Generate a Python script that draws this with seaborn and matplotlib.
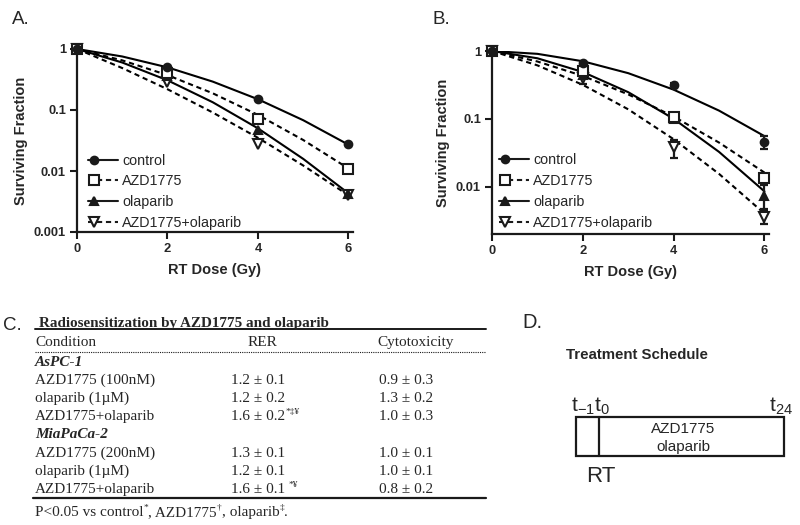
import numpy as np
import matplotlib
matplotlib.use("Agg")
import matplotlib.pyplot as plt
import pandas as pd
import seaborn as sns
from matplotlib.lines import Line2D
from matplotlib.patches import Rectangle
from matplotlib.legend_handler import HandlerLine2D

# ---- data ----
conditions = ["control", "AZD1775", "olaparib", "AZD1775+olaparib"]
dose = [0, 2, 4, 6]

# panel A: measured surviving fraction
sf_a_control = [1, 0.51, 0.151, 0.028]
sf_a_azd = [1, 0.41, 0.071, 0.0107]
sf_a_ola = [1, 0.36, 0.047, 0.0042]
sf_a_combo = [1, 0.29, 0.028, 0.0041]

# panel B: measured surviving fraction + error bar ends
sf_b_control = [1, 0.67, 0.32, 0.046]
lo_b_control = [1, 0.64, 0.30, 0.036]
hi_b_control = [1, 0.70, 0.34, 0.056]
sf_b_azd = [1, 0.50, 0.108, 0.0134]
lo_b_azd = [1, 0.46, 0.101, 0.0122]
hi_b_azd = [1, 0.55, 0.115, 0.0147]
sf_b_ola = [1, 0.45, 0.10, 0.0072]
lo_b_ola = [1, 0.41, 0.095, 0.0047]
hi_b_ola = [1, 0.50, 0.105, 0.0105]
sf_b_combo = [1, 0.40, 0.038, 0.0036]
lo_b_combo = [1, 0.33, 0.026, 0.0028]
hi_b_combo = [1, 0.46, 0.049, 0.0044]

# fitted curves, read at every Gy
fit_dose = [0, 1, 2, 3, 4, 5, 6]
fit_a_control = [1, 0.754, 0.50, 0.292, 0.150, 0.068, 0.027]
fit_a_azd = [1, 0.651, 0.373, 0.188, 0.083, 0.0322, 0.011]
fit_a_ola = [1, 0.60, 0.307, 0.134, 0.050, 0.0158, 0.0043]
fit_a_combo = [1, 0.487, 0.219, 0.091, 0.035, 0.0123, 0.0040]
fit_b_control = [1, 0.908, 0.706, 0.471, 0.269, 0.132, 0.0555]
fit_b_azd = [1, 0.70, 0.429, 0.229, 0.108, 0.0446, 0.0161]
fit_b_ola = [1, 0.781, 0.49, 0.247, 0.10, 0.0325, 0.0085]
fit_b_combo = [1, 0.614, 0.317, 0.138, 0.050, 0.0154, 0.0040]

# panel C table
cell_lines = ["AsPC-1", "MiaPaCa-2"]
table_conditions = [["AZD1775 (100nM)", "olaparib (1\u00b5M)", "AZD1775+olaparib"],
                    ["AZD1775 (200nM)", "olaparib (1\u00b5M)", "AZD1775+olaparib"]]
table_rer = [["1.2 \u00b1 0.1", "1.2 \u00b1 0.2", "1.6 \u00b1 0.2"],
             ["1.3 \u00b1 0.1", "1.2 \u00b1 0.1", "1.6 \u00b1 0.1 "]]
table_rer_sup = [["", "", "*\u2021\u00a5"], ["", "", "*\u00a5"]]
table_cyto = [["0.9 \u00b1 0.3", "1.3 \u00b1 0.2", "1.0 \u00b1 0.3"],
              ["1.0 \u00b1 0.1", "1.0 \u00b1 0.1", "0.8 \u00b1 0.2"]]

sns.set_theme(style="ticks")
plt.rcParams["font.family"] = ["Liberation Sans", "DejaVu Sans"]
plt.rcParams["mathtext.fontset"] = "custom"
plt.rcParams["mathtext.rm"] = "Liberation Sans"

styles = {
    "control": dict(marker="o", ms=5.5, mfc="k", dash=""),
    "AZD1775": dict(marker="s", ms=6.5, mfc="white", dash=(2.5, 1.8)),
    "olaparib": dict(marker="^", ms=5.5, mfc="k", dash=""),
    "AZD1775+olaparib": dict(marker="v", ms=6.5, mfc="white", dash=(2.5, 1.8)),
}


class MarkerLeft(HandlerLine2D):
    # marker at the left end of the legend line, like the original
    def create_artists(self, legend, orig_handle, xdescent, ydescent, width, height,
                       fontsize, trans):
        y = (height - ydescent) / 2
        line = Line2D([-xdescent, -xdescent + width], [y, y])
        self.update_prop(line, orig_handle, legend)
        line.set_marker("")
        mark = Line2D([-xdescent + 4], [y])
        self.update_prop(mark, orig_handle, legend)
        mark.set_linestyle("none")
        line.set_transform(trans)
        mark.set_transform(trans)
        return [line, mark]


def draw_panel(ax, fits, points, errs, ylim, yticks, leg_pos):
    ax.set_yscale("log")
    rows = []
    for c, f in zip(conditions, fits):
        for d, v in zip(fit_dose, f):
            rows.append({"dose": d, "sf": v, "cond": c})
    df = pd.DataFrame(rows)
    sns.lineplot(data=df, x="dose", y="sf", hue="cond", style="cond",
                 palette={c: "black" for c in conditions},
                 dashes={c: styles[c]["dash"] for c in conditions},
                 lw=1.5, legend=False, estimator=None, ax=ax)
    # reversed so the hollow square ends up on top at 0 Gy
    for i in [3, 2, 1, 0]:
        c = conditions[i]
        st = styles[c]
        sf = np.array(points[i])
        if errs is not None:
            lo, hi = np.array(errs[i][0]), np.array(errs[i][1])
            ax.errorbar(dose, sf, yerr=[sf - lo, hi - sf], fmt="none", ecolor="k",
                        elinewidth=1.6, capsize=3.2, capthick=1.6, zorder=4, clip_on=False)
        ax.plot(dose, sf, ls="none", marker=st["marker"], ms=st["ms"], mfc=st["mfc"],
                mec="k", mew=1.5, zorder=5, clip_on=False)
    ax.set_xlim(0, 6.1)
    ax.set_ylim(*ylim)
    ax.set_xticks([0, 2, 4, 6])
    ax.set_yticks(yticks)
    ax.set_yticklabels([("%g" % t) for t in yticks])
    ax.minorticks_off()
    ax.tick_params(axis="y", which="minor", left=False)
    ax.tick_params(length=5, width=1.5, pad=3, labelsize=9.3, color="k")
    for lab in ax.get_xticklabels() + ax.get_yticklabels():
        lab.set_fontweight("bold")
    sns.despine(ax=ax)
    for s in ["left", "bottom"]:
        ax.spines[s].set_linewidth(1.6)
        ax.spines[s].set_color("k")
    ax.set_xlabel("RT Dose (Gy)", fontsize=10.5, fontweight="bold", labelpad=6)
    ax.set_ylabel("Surviving Fraction", fontsize=10.5, fontweight="bold", labelpad=4)
    handles = [Line2D([], [], color="k", lw=1.5,
                      ls="-" if styles[c]["dash"] == "" else (0, styles[c]["dash"]),
                      marker=styles[c]["marker"], ms=styles[c]["ms"], mfc=styles[c]["mfc"],
                      mec="k", mew=1.5) for c in conditions]
    ax.legend(handles, conditions, loc="lower left", bbox_to_anchor=leg_pos,
              frameon=False, fontsize=10.3, handlelength=2.1, handletextpad=0.28,
              labelspacing=0.47, borderaxespad=0.1, borderpad=0.05,
              handler_map={Line2D: MarkerLeft()})


fig = plt.figure(figsize=(8, 5.25), dpi=100)
ax_a = fig.add_axes([77 / 800, 1 - 232 / 525, 276 / 800, 183 / 525])
ax_b = fig.add_axes([492 / 800, 1 - 234 / 525, 277 / 800, 183 / 525])

draw_panel(ax_a, [fit_a_control, fit_a_azd, fit_a_ola, fit_a_combo],
           [sf_a_control, sf_a_azd, sf_a_ola, sf_a_combo], None,
           (0.001, 1), [0.001, 0.01, 0.1, 1], (0.033, 0.0))
draw_panel(ax_b, [fit_b_control, fit_b_azd, fit_b_ola, fit_b_combo],
           [sf_b_control, sf_b_azd, sf_b_ola, sf_b_combo],
           [(lo_b_control, hi_b_control), (lo_b_azd, hi_b_azd),
            (lo_b_ola, hi_b_ola), (lo_b_combo, hi_b_combo)],
           (0.002, 1), [0.01, 0.1, 1], (0.018, 0.012))

# overlay in pixel units for labels, table and schematic
ov = fig.add_axes([0, 0, 1, 1], zorder=-1)
ov.set_xlim(0, 800)
ov.set_ylim(525, 0)
ov.axis("off")
renderer = fig.canvas.get_renderer()

for x, y, s, fs in [(12, 19, "A.", 13.5), (432, 19, "B.", 13.5),
                    (3, 325, "C.", 13.5), (522, 322, "D.", 14.5)]:
    ov.text(x, y, s, fontsize=fs, va="center", ha="left")

serif = ["Liberation Serif", "DejaVu Serif"]


def rich(x, y, pieces, size, **kw):
    for txt, sup in pieces:
        fs = size * 0.62 if sup else size
        t = ov.text(x, y - (size * 0.55 if sup else 0), txt, fontsize=fs,
                    va="baseline", ha="left", family=serif, **kw)
        x += t.get_window_extent(renderer).width


# panel C table
ov.text(39, 327, "Radiosensitization by AZD1775 and olaparib", family=serif,
        fontsize=10.9, fontweight="bold", va="baseline")
ov.plot([35, 486], [329, 329], color="k", lw=1.4)
ov.text(35, 346, "Condition", family=serif, fontsize=11, va="baseline")
ov.text(262, 346, "RER", family=serif, fontsize=11, va="baseline", ha="center")
ov.text(416, 346, "Cytotoxicity", family=serif, fontsize=11, va="baseline", ha="center")
ov.plot([35, 486], [352, 352], color="k", lw=0.8, ls=(0, (1, 1)))

y = 366
for i, line in enumerate(cell_lines):
    ov.text(35, y, line, family=serif, fontsize=11, fontweight="bold",
            style="italic", va="baseline")
    y += 18.1
    for j in range(3):
        ov.text(35, y, table_conditions[i][j], family=serif, fontsize=11, va="baseline")
        rich(231, y, [(table_rer[i][j], False), (table_rer_sup[i][j], True)], 11)
        ov.text(406, y, table_cyto[i][j], family=serif, fontsize=11,
                va="baseline", ha="center")
        y += 18.1
ov.plot([33, 486], [498, 498], color="k", lw=1.6)
rich(35, 516, [("P<0.05 vs control", False), ("*", True), (", AZD1775", False),
               ("\u2020", True), (", olaparib", False), ("\u2021", True), (".", False)], 11)

# panel D schematic
ov.text(566, 355, "Treatment Schedule", fontsize=10.8, fontweight="bold", va="center")
ov.add_patch(Rectangle((576, 417), 208, 39, fill=False, ec="k", lw=1.6))
ov.plot([599, 599], [417, 456], color="k", lw=1.6)
ov.text(571, 411, r"t$_{\mathregular{-1}}$", fontsize=15, va="baseline")
ov.text(594, 411, r"t$_{\mathregular{0}}$", fontsize=15, va="baseline")
ov.text(769, 411, r"t$_{\mathregular{24}}$", fontsize=15, va="baseline")
ov.text(683, 429, "AZD1775", fontsize=11, ha="center", va="center")
ov.text(683, 447, "olaparib", fontsize=11, ha="center", va="center")
ov.text(601, 476, "RT", fontsize=16, ha="center", va="center")

fig.savefig("out.png", dpi=100)
